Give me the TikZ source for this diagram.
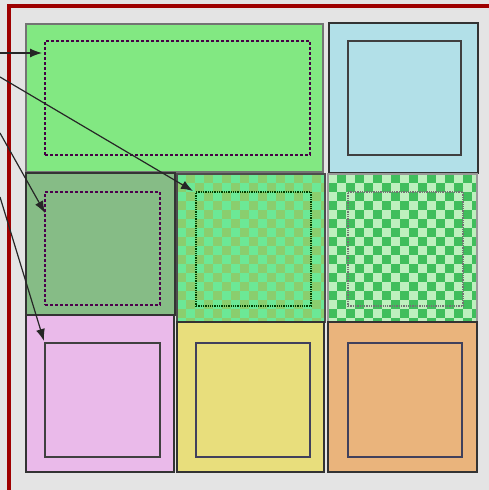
\documentclass[tikz,border=0pt]{standalone}
\usetikzlibrary{arrows.meta}

\definecolor{bggray}{RGB}{228,228,228}
\definecolor{framered}{RGB}{158,0,0}
\definecolor{cgreen}{RGB}{130,232,130}
\definecolor{cblue}{RGB}{178,224,232}
\definecolor{cmoss}{RGB}{134,188,134}
\definecolor{cpink}{RGB}{234,186,234}
\definecolor{cyellow}{RGB}{232,222,124}
\definecolor{corange}{RGB}{234,180,124}
\definecolor{chkAlight}{RGB}{108,232,150}
\definecolor{chkAdark}{RGB}{138,206,110}
\definecolor{chkBlight}{RGB}{190,240,190}
\definecolor{chkBdark}{RGB}{64,190,92}

\tikzset{
  cell/.style={draw=black!80, line width=1.5pt, inner sep=0pt, outer sep=0pt, anchor=north west},
  inbox/.style={draw=black!75, line width=1.3pt, inner sep=0pt, outer sep=0pt, anchor=north west},
  arr/.style={-{Latex[length=12pt,width=9pt]}, black!85, line width=1.2pt}
}

% checker fill: x y w h light dark
\newcommand{\checkfill}[6]{%
  \begin{scope}
    \clip (#1,#2) rectangle ++(#3,#4);
    \fill[#5] (#1,#2) rectangle ++(#3,#4);
    \foreach \i in {0,...,17}{\foreach \j in {0,...,17}{
      \ifodd\numexpr\i+\j\relax \fill[#6] ({#1+9*\i},{#2+9*\j}) rectangle ++(9,9); \fi }}
  \end{scope}}

\begin{document}
\begin{tikzpicture}[x=1pt, y=-1pt]
  \useasboundingbox (0,0) rectangle (489,490);
  \fill[bggray] (0,0) rectangle (489,490);
  \draw[framered, line width=4pt] (9,490) -- (9,6) -- (489,6);

  % checker backgrounds
  \checkfill{177}{174}{148}{148}{chkAlight}{chkAdark}
  \checkfill{328}{174}{149}{148}{chkBlight}{chkBdark}

  % outer cells
  \node[cell, draw=black!55, fill=cgreen, minimum width=297pt, minimum height=148pt] (c11) at (26,24) {};
  \node[cell, fill=cblue,   minimum width=149pt, minimum height=150pt] (c12) at (329,23) {};
  \node[cell, fill=cmoss,   minimum width=149pt, minimum height=142pt] (c21) at (26,173) {};
  \node[cell, draw=black!70, minimum width=148pt, minimum height=148pt] (c22) at (177,174) {};
  \node[cell, draw=black!40, minimum width=149pt, minimum height=148pt] (c23) at (328,174) {};
  \node[cell, fill=cpink,   minimum width=148pt, minimum height=157pt] (c31) at (26,315) {};
  \node[cell, fill=cyellow, minimum width=147pt, minimum height=150pt] (c32) at (177,322) {};
  \node[cell, fill=corange, minimum width=149pt, minimum height=150pt] (c33) at (328,322) {};

  % inner boxes
  \node[inbox, draw=violet!55!black, densely dashed, minimum width=265pt, minimum height=114pt] (i11) at (45,41) {};
  \node[inbox, minimum width=113pt, minimum height=114pt] (i12) at (348,41) {};
  \node[inbox, draw=violet!60!black, densely dashed, minimum width=115pt, minimum height=113pt] (i21) at (45,192) {};
  \node[inbox, draw=green!25!black, densely dotted, minimum width=115pt, minimum height=114pt] (i22) at (196,192) {};
  \node[inbox, draw=black!55, densely dotted, minimum width=115pt, minimum height=114pt] (i23) at (348,192) {};
  \node[inbox, minimum width=115pt, minimum height=114pt] (i31) at (45,343) {};
  \node[inbox, draw=blue!15!black!75, minimum width=114pt, minimum height=114pt] (i32) at (196,343) {};
  \node[inbox, draw=blue!15!black!75, minimum width=114pt, minimum height=114pt] (i33) at (348,343) {};

  % pointers from the left edge
  \coordinate (s1) at (0,53);
  \coordinate (s2) at (0,77);
  \coordinate (s3) at (0,133);
  \coordinate (s4) at (0,197);
  \draw[arr] (s1) -- ([xshift=-3pt]s1 -| i11.west);
  \draw[arr] (s2) -- ([xshift=-3pt,yshift=1pt]i22.north west);
  \draw[arr] (s3) -- ([yshift=-21pt]i21.north west);
  \draw[arr] (s4) -- ([xshift=-1pt,yshift=2pt]i31.north west);
\end{tikzpicture}
\end{document}
